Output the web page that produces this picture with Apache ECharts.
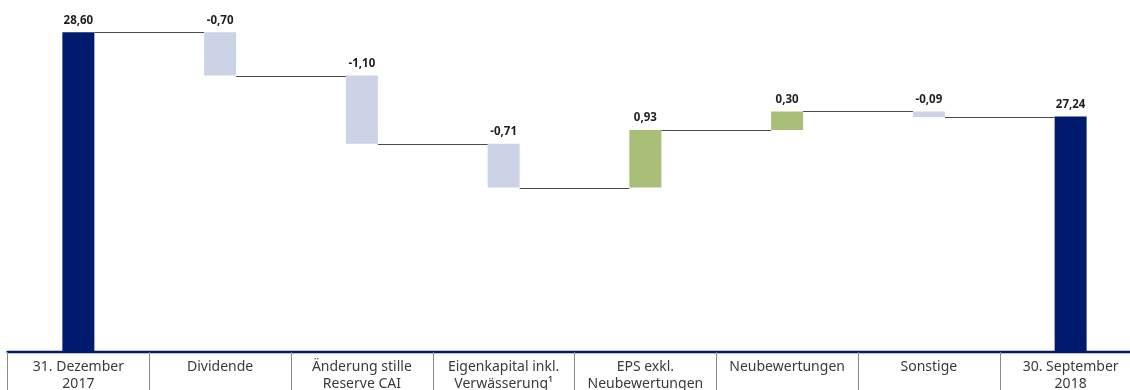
<!DOCTYPE html>
<html>
<head>
<meta charset="utf-8">
<script src="https://cdn.jsdelivr.net/npm/echarts@6/dist/echarts.min.js"></script>
<style>
  html, body { margin: 0; padding: 0; background: #fff; }
  #chart { width: 1130px; height: 390px; }
</style>
</head>
<body>
<div id="chart"></div>
<script>
// Bridge of book value per share (EUR)
const categories = [
  '31. Dezember\n2017',
  'Dividende',
  'Änderung stille\nReserve CAI',
  'Eigenkapital inkl.\nVerwässerung¹',
  'EPS exkl.\nNeubewertungen',
  'Neubewertungen',
  'Sonstige',
  '30. September\n2018'
];
const startValue = 28.60;
const changes = [-0.70, -1.10, -0.71, 0.93, 0.30, -0.09];
const endValue = 27.24;

const NAVY = '#001a6e';
const LAVENDER = '#cdd3e6';
const GREEN = '#a9bf78';

// running levels after each step
const levels = [startValue];
changes.forEach(c => levels.push(+(levels[levels.length - 1] + c).toFixed(2)));
levels.push(endValue);

const baseData = [0];
const barData = [];
const labels = [];
barData.push({ value: startValue, itemStyle: { color: NAVY } });
labels.push(startValue);
changes.forEach((c, i) => {
  const prev = levels[i];
  const next = levels[i + 1];
  baseData.push(Math.min(prev, next));
  barData.push({ value: Math.abs(c), itemStyle: { color: c < 0 ? LAVENDER : GREEN } });
  labels.push(c);
});
baseData.push(0);
barData.push({ value: endValue, itemStyle: { color: NAVY } });
labels.push(endValue);

const fmt = v => v.toFixed(2).replace('.', ',');

const BAR_W = 32;

// connector segments between neighbouring bars
const connectorData = [];
for (let i = 0; i < categories.length - 1; i++) {
  connectorData.push([i, levels[i]]);
}

const chart = echarts.init(document.getElementById('chart'), null, { renderer: 'canvas' });
chart.setOption({
  animation: false,
  grid: { left: 7.5, right: -11.5, top: 7.6, bottom: 38, outerBoundsMode: 'none', containLabel: false },
  xAxis: {
    type: 'category',
    data: categories,
    boundaryGap: true,
    axisLine: { show: true, lineStyle: { color: NAVY, width: 2.3 } },
    axisTick: { show: true, interval: 0, alignWithLabel: false, length: 42, lineStyle: { color: '#8a8a8a', width: 1 } },
    axisLabel: {
      interval: 0, margin: 7, color: '#3a3a3a', fontSize: 14, lineHeight: 17,
      fontFamily: 'Noto Sans', fontWeight: 'normal'
    }
  },
  yAxis: {
    type: 'value', min: 23.43, max: 29.0, show: false,
    splitLine: { show: false }
  },
  series: [
    {
      type: 'bar', stack: 'wf', barWidth: BAR_W, silent: true,
      itemStyle: { color: 'transparent' },
      data: baseData
    },
    {
      type: 'bar', stack: 'wf', barWidth: BAR_W,
      data: barData,
      label: {
        show: true, position: 'top', distance: 6,
        fontSize: 11.5, fontWeight: 'bold', color: '#1e1e1e', fontFamily: 'Noto Sans',
        formatter: p => fmt(labels[p.dataIndex])
      }
    },
    {
      type: 'custom', silent: true, z: 5,
      data: connectorData,
      renderItem: (params, api) => {
        const i = api.value(0);
        const lvl = api.value(1);
        const a = api.coord([i, lvl]);
        const b = api.coord([i + 1, lvl]);
        const y = Math.round(a[1]) + 0.5;
        return {
          type: 'line',
          shape: { x1: a[0] + BAR_W / 2, y1: y, x2: b[0] - BAR_W / 2, y2: y },
          style: { stroke: '#4a4a4a', lineWidth: 1 }
        };
      }
    }
  ]
});
</script>
</body>
</html>
